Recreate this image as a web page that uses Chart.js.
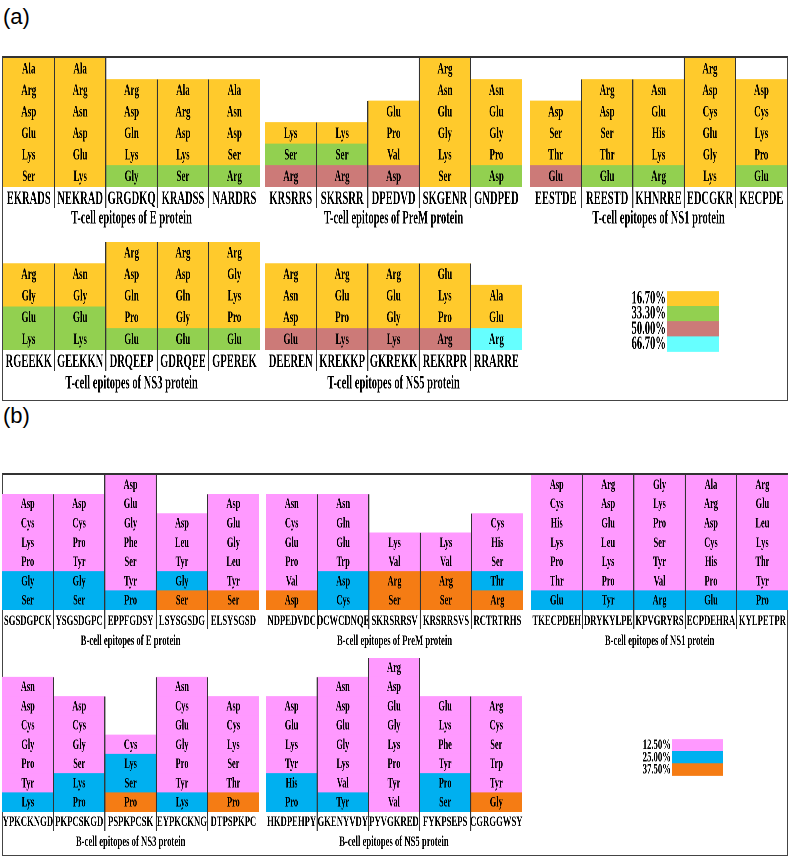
<!DOCTYPE html>
<html>
<head>
<meta charset="utf-8">
<script src="https://cdn.jsdelivr.net/npm/chart.js@4.4.1/dist/chart.umd.min.js"></script>
<style>
  body { margin: 0; background: #fff; width: 790px; height: 858px; position: relative; overflow: hidden; }
  .panel { position: absolute; box-sizing: border-box; border: 1px solid #444; border-top: 2px solid #333; }
  .tag { position: absolute; font: 22px/26px "Liberation Sans", Arial, sans-serif; color: #000; }
  .squeeze { position: absolute; transform-origin: 0 0; }
</style>
</head>
<body>
<div class="tag" style="left:3px;top:4px">(a)</div>
<div class="panel" style="left:2px;top:56px;width:786px;height:345px"></div>
<div class="tag" style="left:3px;top:403px">(b)</div>
<div class="panel" style="left:2px;top:473px;width:786px;height:383px"></div>
<script>
// (a) T细胞表位
const tTitles = [
  'T-cell epitopes of E protein', 'T-cell epitopes of PreM protein', 'T-cell epitopes of NS1 protein',
  'T-cell epitopes of NS3 protein', 'T-cell epitopes of NS5 protein'
];
const tEpitopes = [
  ['EKRADS', 'NEKRAD', 'GRGDKQ', 'KRADSS', 'NARDRS'],
  ['KRSRRS', 'SKRSRR', 'DPEDVD', 'SKGENR', 'GNDPED'],
  ['EESTDE', 'REESTD', 'KHNRRE', 'EDCGKR', 'KECPDE'],
  ['RGEEKK', 'GEEKKN', 'DRQEEP', 'GDRQEE', 'GPEREK'],
  ['DEEREN', 'KREKKP', 'GKREKK', 'REKRPR', 'RRARRE']
];
// 每列氨基酸（从上到下）
const tResidues = [
  [['Ala', 'Arg', 'Asp', 'Glu', 'Lys', 'Ser'], ['Ala', 'Arg', 'Asn', 'Asp', 'Glu', 'Lys'],
   ['Arg', 'Asp', 'Gln', 'Lys', 'Gly'], ['Ala', 'Arg', 'Asp', 'Lys', 'Ser'], ['Ala', 'Asn', 'Asp', 'Ser', 'Arg']],
  [['Lys', 'Ser', 'Arg'], ['Lys', 'Ser', 'Arg'], ['Glu', 'Pro', 'Val', 'Asp'],
   ['Arg', 'Asn', 'Glu', 'Gly', 'Lys', 'Ser'], ['Asn', 'Glu', 'Gly', 'Pro', 'Asp']],
  [['Asp', 'Ser', 'Thr', 'Glu'], ['Arg', 'Asp', 'Ser', 'Thr', 'Glu'], ['Asn', 'Glu', 'His', 'Lys', 'Arg'],
   ['Arg', 'Asp', 'Cys', 'Glu', 'Gly', 'Lys'], ['Asp', 'Cys', 'Lys', 'Pro', 'Glu']],
  [['Arg', 'Gly', 'Glu', 'Lys'], ['Asn', 'Gly', 'Glu', 'Lys'], ['Arg', 'Asp', 'Gln', 'Pro', 'Glu'],
   ['Arg', 'Asp', 'Gln', 'Gly', 'Glu'], ['Arg', 'Gly', 'Lys', 'Pro', 'Glu']],
  [['Arg', 'Asn', 'Asp', 'Glu'], ['Arg', 'Glu', 'Pro', 'Lys'], ['Arg', 'Glu', 'Gly', 'Lys'],
   ['Glu', 'Lys', 'Pro', 'Arg'], ['Ala', 'Glu', 'Arg']]
];
// 每个氨基酸的频率（%）
const tFreq = [
  [[16.7, 16.7, 16.7, 16.7, 16.7, 16.7], [16.7, 16.7, 16.7, 16.7, 16.7, 16.7],
   [16.7, 16.7, 16.7, 16.7, 33.3], [16.7, 16.7, 16.7, 16.7, 33.3], [16.7, 16.7, 16.7, 16.7, 33.3]],
  [[16.7, 33.3, 50], [16.7, 33.3, 50], [16.7, 16.7, 16.7, 50],
   [16.7, 16.7, 16.7, 16.7, 16.7, 16.7], [16.7, 16.7, 16.7, 16.7, 33.3]],
  [[16.7, 16.7, 16.7, 50], [16.7, 16.7, 16.7, 16.7, 33.3], [16.7, 16.7, 16.7, 16.7, 33.3],
   [16.7, 16.7, 16.7, 16.7, 16.7, 16.7], [16.7, 16.7, 16.7, 16.7, 33.3]],
  [[16.7, 16.7, 33.3, 33.3], [16.7, 16.7, 33.3, 33.3], [16.7, 16.7, 16.7, 16.7, 33.3],
   [16.7, 16.7, 16.7, 16.7, 33.3], [16.7, 16.7, 16.7, 16.7, 33.3]],
  [[16.7, 16.7, 16.7, 50], [16.7, 16.7, 16.7, 50], [16.7, 16.7, 16.7, 50],
   [16.7, 16.7, 16.7, 50], [16.7, 16.7, 66.7]]
];
const tLevels = ['16.70%', '33.30%', '50.00%', '66.70%'];
const tColors = ['#FFCA2C', '#92D050', '#CC7A78', '#66FFFF'];

// (b) B细胞表位
const bTitles = [
  'B-cell epitopes of E protein', 'B-cell epitopes of PreM protein', 'B-cell epitopes of NS1 protein',
  'B-cell epitopes of NS3 protein', 'B-cell epitopes of NS5 protein'
];
const bEpitopes = [
  ['SGSDGPCK', 'YSGSDGPC', 'EPPFGDSY', 'LSYSGSDG', 'ELSYSGSD'],
  ['NDPEDVDC', 'DCWCDNQE', 'SKRSRRSV', 'KRSRRSVS', 'RCTRTRHS'],
  ['TKECPDEH', 'DRYKYLPE', 'KPVGRYRS', 'ECPDEHRA', 'KYLPETPR'],
  ['YPKCKNGD', 'PKPCSKGD', 'PSPKPCSK', 'EYPKCKNG', 'DTPSPKPC'],
  ['HKDPEHPY', 'GKENYVDY', 'PYVGKRED', 'FYKPSEPS', 'CGRGGWSY']
];
const bResidues = [
  [['Asp', 'Cys', 'Lys', 'Pro', 'Gly', 'Ser'], ['Asp', 'Cys', 'Pro', 'Tyr', 'Gly', 'Ser'],
   ['Asp', 'Glu', 'Gly', 'Phe', 'Ser', 'Tyr', 'Pro'], ['Asp', 'Leu', 'Tyr', 'Gly', 'Ser'],
   ['Asp', 'Glu', 'Gly', 'Leu', 'Tyr', 'Ser']],
  [['Asn', 'Cys', 'Glu', 'Pro', 'Val', 'Asp'], ['Asn', 'Gln', 'Glu', 'Trp', 'Asp', 'Cys'],
   ['Lys', 'Val', 'Arg', 'Ser'], ['Lys', 'Val', 'Arg', 'Ser'], ['Cys', 'His', 'Ser', 'Thr', 'Arg']],
  [['Asp', 'Cys', 'His', 'Lys', 'Pro', 'Thr', 'Glu'], ['Arg', 'Asp', 'Glu', 'Leu', 'Lys', 'Pro', 'Tyr'],
   ['Gly', 'Lys', 'Pro', 'Ser', 'Tyr', 'Val', 'Arg'], ['Ala', 'Arg', 'Asp', 'Cys', 'His', 'Pro', 'Glu'],
   ['Arg', 'Glu', 'Leu', 'Lys', 'Thr', 'Tyr', 'Pro']],
  [['Asn', 'Asp', 'Cys', 'Gly', 'Pro', 'Tyr', 'Lys'], ['Asp', 'Cys', 'Gly', 'Ser', 'Lys', 'Pro'],
   ['Cys', 'Lys', 'Ser', 'Pro'], ['Asn', 'Cys', 'Glu', 'Gly', 'Pro', 'Tyr', 'Lys'],
   ['Asp', 'Cys', 'Lys', 'Ser', 'Thr', 'Pro']],
  [['Asp', 'Glu', 'Lys', 'Tyr', 'His', 'Pro'], ['Asn', 'Asp', 'Glu', 'Gly', 'Lys', 'Val', 'Tyr'],
   ['Arg', 'Asp', 'Glu', 'Gly', 'Lys', 'Pro', 'Tyr', 'Val'], ['Glu', 'Lys', 'Phe', 'Tyr', 'Pro', 'Ser'],
   ['Arg', 'Cys', 'Ser', 'Trp', 'Tyr', 'Gly']]
];
const bFreq = [
  [[12.5, 12.5, 12.5, 12.5, 25, 25], [12.5, 12.5, 12.5, 12.5, 25, 25],
   [12.5, 12.5, 12.5, 12.5, 12.5, 12.5, 25], [12.5, 12.5, 12.5, 25, 37.5],
   [12.5, 12.5, 12.5, 12.5, 12.5, 37.5]],
  [[12.5, 12.5, 12.5, 12.5, 12.5, 37.5], [12.5, 12.5, 12.5, 12.5, 25, 25],
   [12.5, 12.5, 37.5, 37.5], [12.5, 12.5, 37.5, 37.5], [12.5, 12.5, 12.5, 25, 37.5]],
  [[12.5, 12.5, 12.5, 12.5, 12.5, 12.5, 25], [12.5, 12.5, 12.5, 12.5, 12.5, 12.5, 25],
   [12.5, 12.5, 12.5, 12.5, 12.5, 12.5, 25], [12.5, 12.5, 12.5, 12.5, 12.5, 12.5, 25],
   [12.5, 12.5, 12.5, 12.5, 12.5, 12.5, 25]],
  [[12.5, 12.5, 12.5, 12.5, 12.5, 12.5, 25], [12.5, 12.5, 12.5, 12.5, 25, 25],
   [12.5, 25, 25, 37.5], [12.5, 12.5, 12.5, 12.5, 12.5, 12.5, 25],
   [12.5, 12.5, 12.5, 12.5, 12.5, 37.5]],
  [[12.5, 12.5, 12.5, 12.5, 25, 25], [12.5, 12.5, 12.5, 12.5, 12.5, 12.5, 25],
   [12.5, 12.5, 12.5, 12.5, 12.5, 12.5, 12.5, 12.5], [12.5, 12.5, 12.5, 12.5, 25, 25],
   [12.5, 12.5, 12.5, 12.5, 12.5, 37.5]]
];
const bLevels = ['12.50%', '25.00%', '37.50%'];
const bColors = ['#FF99FF', '#00B0F0', '#F57C14'];

// 原图文字被横向压缩，这里整体按比例压缩画布
const SX = 0.57;
const TEXT = '#000';
const SERIF = '"Liberation Serif", "Times New Roman", serif';
const GROUP_W = 257;

// 布局
const groupLeftA = [3, 265, 530];
const groupLeftB = [2, 266, 531];
const rowsA = [
  { top: 58, bottom: 187, axisH: 43, pad: 1, sep: 21 },
  { top: 242, bottom: 350, axisH: 45, pad: 1, sep: 21 }
];
const rowsB = [
  { top: 475, bottom: 610, axisH: 40, pad: 2, sep: 19 },
  { top: 658, bottom: 812, axisH: 39, pad: 1, sep: 19 }
];
const fontA = { cell: 15.8, tick: 18.5, title: 18.5, legend: 18.5 };
const fontB = { cell: 14.7, tick: 15.2, title: 15.2, legend: 15.2 };

// 创建压缩后的画布
function addCanvas(left, top, w, h) {
  const box = document.createElement('div');
  box.className = 'squeeze';
  box.style.left = left + 'px';
  box.style.top = top + 'px';
  box.style.transform = `scaleX(${SX})`;
  const canvas = document.createElement('canvas');
  const iw = Math.round(w / SX);
  canvas.width = iw;
  canvas.height = h;
  canvas.style.width = iw + 'px';
  canvas.style.height = h + 'px';
  box.appendChild(canvas);
  document.body.appendChild(box);
  return canvas;
}

// 频率对应的图例序号
function levelIndex(levels, f) {
  return levels.findIndex(l => Math.abs(parseFloat(l) - f) < 0.05);
}

// 画一组表位
function drawGroup(left, row, rowCount, font, title, epitopes, residues, freq, levels, colors) {
  const canvas = addCanvas(left, row.top, GROUP_W, row.bottom - row.top + row.axisH);
  const maxRows = Math.max(...residues.map(c => c.length));
  const datasets = [];
  for (let k = 0; k < maxRows; k++) {
    const vals = [], names = [], bg = [];
    residues.forEach((col, i) => {
      const j = col.length - 1 - k; // 从下往上
      if (j < 0) {
        vals.push(null); names.push(''); bg.push('rgba(0,0,0,0)');
        return;
      }
      vals.push(1);
      names.push(col[j]);
      bg.push(colors[levelIndex(levels, freq[i][j])]);
    });
    datasets.push({ data: vals, names: names, backgroundColor: bg });
  }

  new Chart(canvas, {
    type: 'bar',
    data: { labels: epitopes, datasets: datasets },
    options: {
      responsive: false,
      animation: false,
      devicePixelRatio: 2,
      layout: { padding: 0 },
      datasets: { bar: { barPercentage: 1, categoryPercentage: 1, borderWidth: 0 } },
      plugins: { legend: { display: false }, tooltip: { enabled: false } },
      scales: {
        x: {
          stacked: true,
          grid: { display: false, drawTicks: false },
          border: { display: false },
          ticks: {
            color: TEXT, padding: row.pad, maxRotation: 0, autoSkip: false,
            font: { family: SERIF, size: font.tick, weight: 'bold' }
          },
          title: {
            display: true, text: title, color: TEXT, padding: 0,
            font: { family: SERIF, size: font.title, weight: 'bold' }
          },
          afterFit: s => { s.height = row.axisH; }
        },
        y: { stacked: true, display: false, min: 0, max: rowCount }
      }
    },
    plugins: [{
      id: 'cellText',
      afterDatasetsDraw(chart) {
        const { ctx, chartArea, scales: { x, y } } = chart;
        ctx.save();
        // 列之间的竖线
        ctx.strokeStyle = '#333';
        ctx.lineWidth = 2;
        for (let i = 1; i < residues.length; i++) {
          const bx = (x.getPixelForValue(i - 1) + x.getPixelForValue(i)) / 2;
          const top = y.getPixelForValue(Math.max(residues[i - 1].length, residues[i].length));
          ctx.beginPath();
          ctx.moveTo(bx, top);
          ctx.lineTo(bx, chartArea.bottom + row.sep);
          ctx.stroke();
        }
        // 氨基酸名称
        ctx.font = `bold ${font.cell}px ${SERIF}`;
        ctx.fillStyle = TEXT;
        ctx.textAlign = 'center';
        ctx.textBaseline = 'middle';
        chart.data.datasets.forEach((ds, di) => {
          chart.getDatasetMeta(di).data.forEach((bar, i) => {
            if (!ds.names[i]) return;
            ctx.fillText(ds.names[i], bar.x, (bar.y + bar.base) / 2 + 0.5);
          });
        });
        ctx.restore();
      }
    }]
  });
}

// 画图例
function drawLegend(boxLeft, top, boxW, boxH, levels, colors, size) {
  const axisW = 64;
  const canvas = addCanvas(boxLeft - axisW, top, axisW + boxW, boxH);
  new Chart(canvas, {
    type: 'bar',
    data: { labels: levels, datasets: [{ data: levels.map(() => 1), backgroundColor: colors }] },
    options: {
      indexAxis: 'y',
      responsive: false,
      animation: false,
      devicePixelRatio: 2,
      layout: { padding: 0 },
      datasets: { bar: { barPercentage: 1, categoryPercentage: 1, borderWidth: 0 } },
      plugins: { legend: { display: false }, tooltip: { enabled: false } },
      scales: {
        x: { display: false, min: 0, max: 1 },
        y: {
          grid: { display: false, drawTicks: false },
          border: { display: false },
          ticks: {
            color: TEXT, padding: 2, autoSkip: false,
            font: { family: SERIF, size: size, weight: 'bold' }
          },
          afterFit: s => { s.width = axisW / SX; }
        }
      }
    }
  });
}

// 面板 (a)
for (let g = 0; g < 5; g++) {
  const r = g < 3 ? 0 : 1;
  const left = groupLeftA[g < 3 ? g : g - 3];
  drawGroup(left, rowsA[r], r === 0 ? 6 : 5, fontA, tTitles[g], tEpitopes[g], tResidues[g], tFreq[g], tLevels, tColors);
}
drawLegend(667, 278, 52, 87, tLevels, tColors, fontA.legend);

// 面板 (b)
for (let g = 0; g < 5; g++) {
  const r = g < 3 ? 0 : 1;
  const left = groupLeftB[g < 3 ? g : g - 3];
  drawGroup(left, rowsB[r], r === 0 ? 7 : 8, fontB, bTitles[g], bEpitopes[g], bResidues[g], bFreq[g], bLevels, bColors);
}
drawLegend(672, 728, 51, 59, bLevels, bColors, fontB.legend);
</script>
</body>
</html>
